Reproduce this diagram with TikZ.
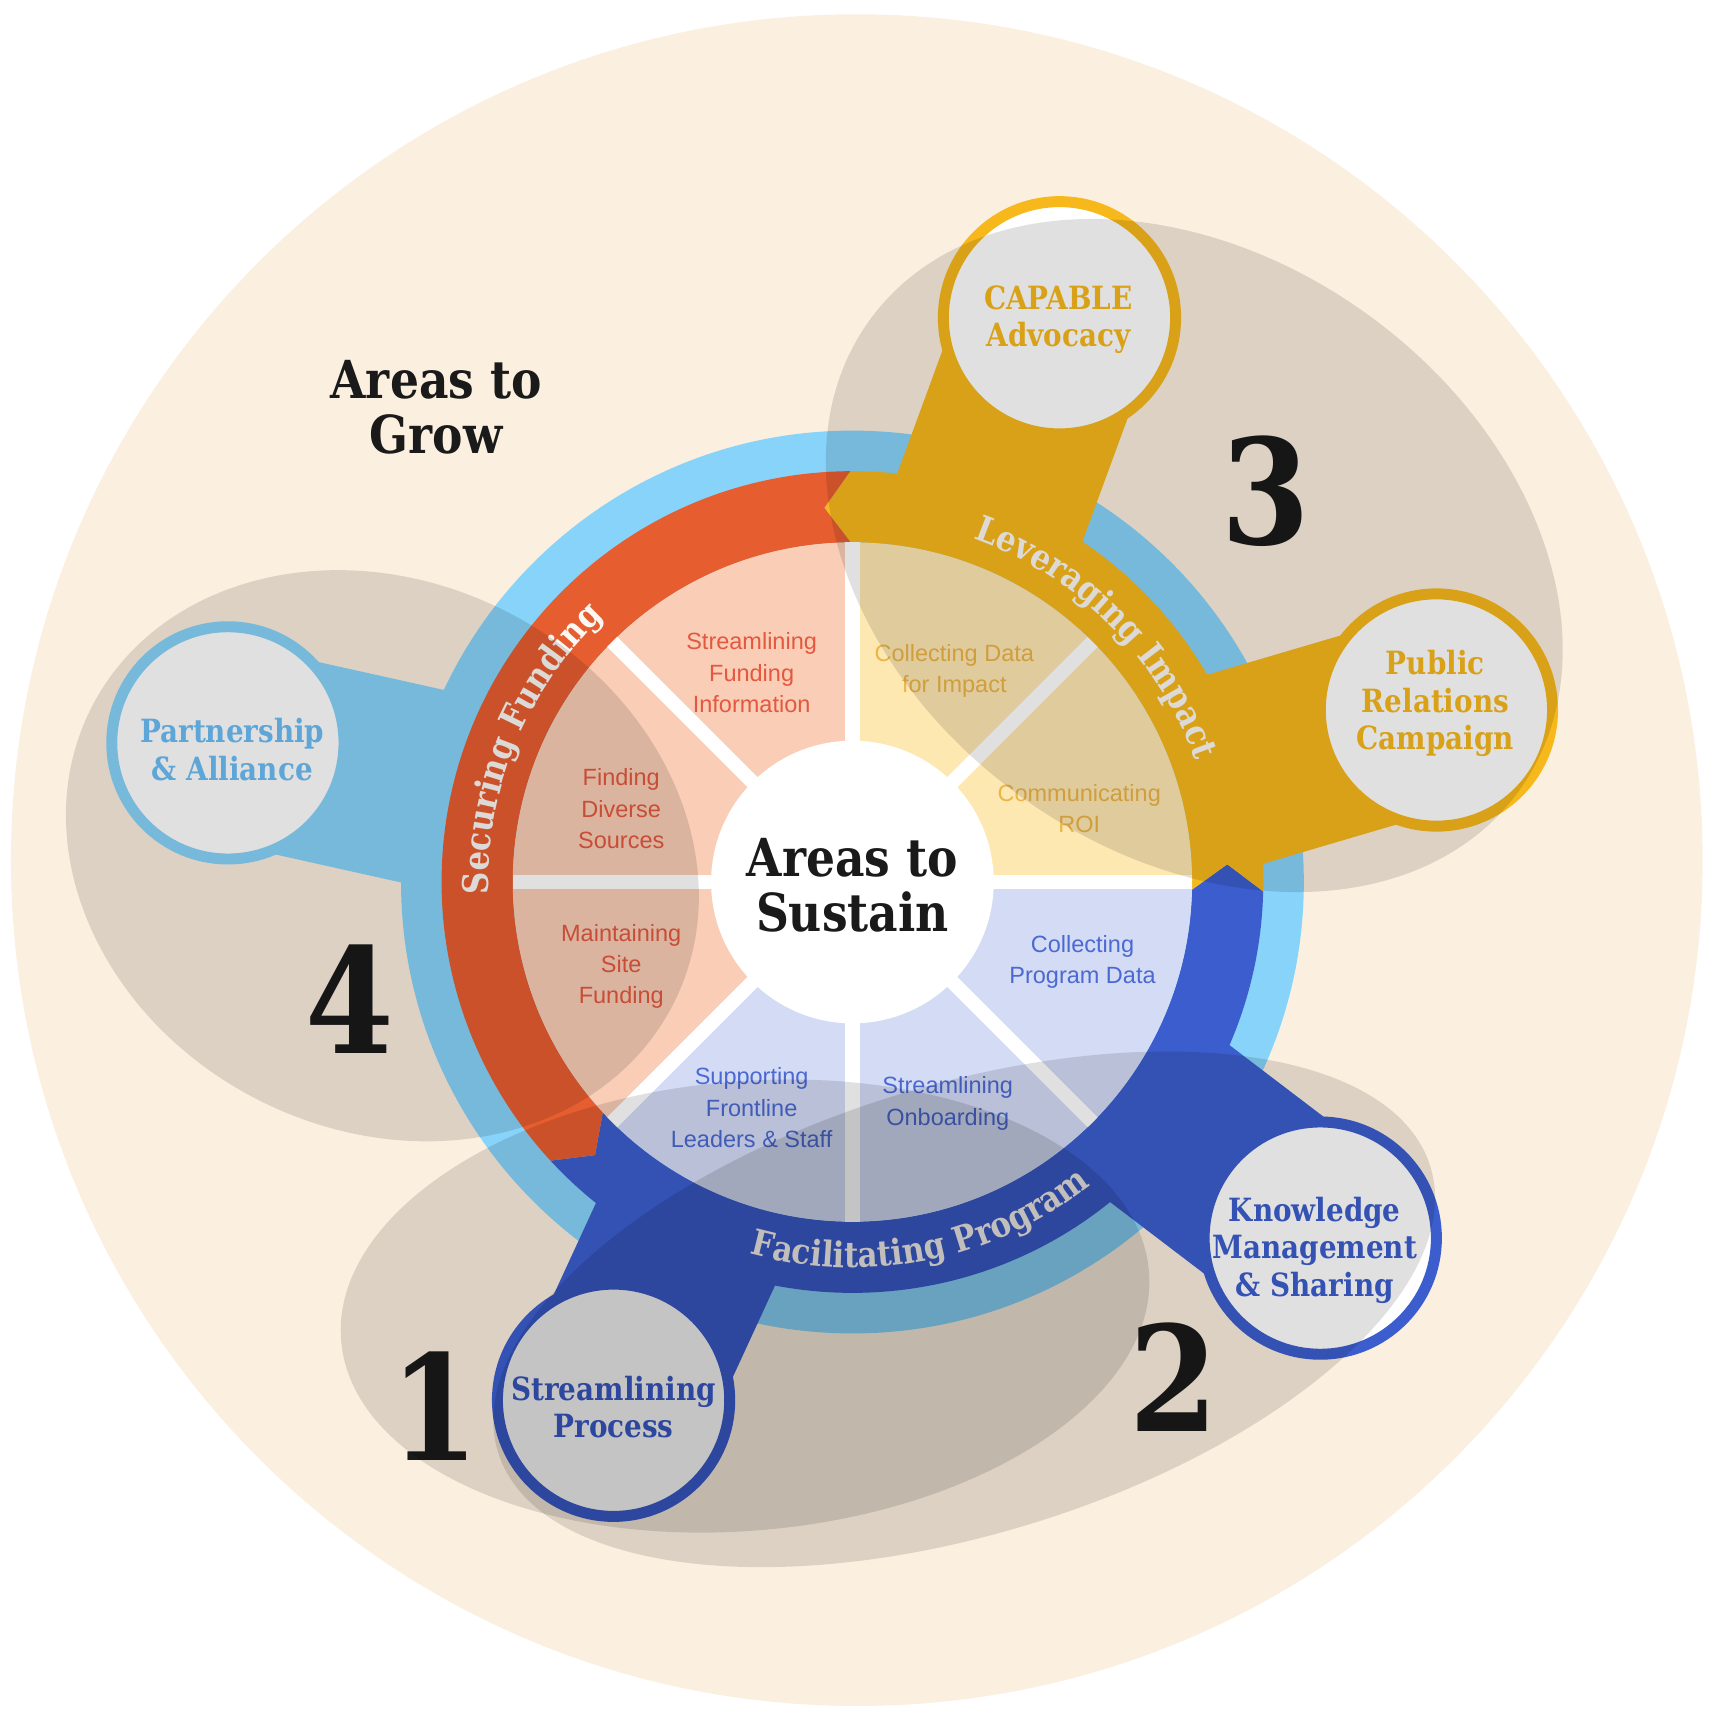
\documentclass[tikz,border=0pt]{standalone}
\usepackage{fontspec}
\setmainfont{Liberation Sans}
\newfontfamily\slab{DejaVu Serif}[FakeStretch=0.87]
\usetikzlibrary{decorations.text}
\definecolor{beige}{HTML}{FBEFDF}
\definecolor{lblue}{HTML}{88D3F9}
\definecolor{orng}{HTML}{E65D2F}
\definecolor{gold}{HTML}{F7B81B}
\definecolor{blu}{HTML}{3C5DCE}
\definecolor{secO}{HTML}{F9CDB6}
\definecolor{secY}{HTML}{FEE8B2}
\definecolor{secB}{HTML}{D3DBF5}
\definecolor{txO}{HTML}{E4583F}
\definecolor{txY}{HTML}{EDB446}
\definecolor{txB}{HTML}{4B69D2}
\definecolor{cL}{HTML}{6CBDF5}
\definecolor{ink}{HTML}{1A1A1A}
\definecolor{ringtxt}{HTML}{FBF8F4}
\newcommand\ringfont{\slab\bfseries\fontsize{9.2}{11}\selectfont}
\tikzset{
  sectxt/.style={font=\fontsize{6.1}{8.1}\selectfont, align=center, inner sep=0pt},
  circtxt/.style={font=\slab\bfseries\fontsize{8.3}{9.7}\selectfont, align=center, inner sep=0pt},
  bigtxt/.style={font=\slab\bfseries\fontsize{13.6}{14.3}\selectfont, align=center, inner sep=0pt, text=ink},
  numtxt/.style={font=\slab\bfseries\fontsize{38}{40}\selectfont, inner sep=0pt, text=ink},
  ringcirc/.style={fill=white, line width=0.1cm},
  areashade/.style={fill=black, fill opacity=0.12},
  sepline/.style={white, line width=0.13cm},
  ringlabel/.style={decorate, decoration={text along path, text align=center, text color=ringtxt, text={|\ringfont|#1}}}
}
\begin{document}
\begin{tikzpicture}[x=0.01cm,y=0.01cm]
\useasboundingbox (0,0) rectangle (1564,-1568);
\fill[white] (0,0) rectangle (1564,-1568);
\fill[beige] (782,-785) circle[radius=772];

\coordinate (W) at (778,-805);
\coordinate (cC) at (967,-290);
\coordinate (cPR) at (1311,-648);
\coordinate (cK) at (1205,-1130);
\coordinate (cS) at (560,-1278);
\coordinate (cP) at (208,-678);

% light blue ring
\fill[lblue] (W) circle[radius=412];

% arms
\fill[gold] (1051.5,-321) -- (979.6,-516.8) -- (810.6,-454.8) -- (882.5,-259) -- cycle;
\fill[gold] (1336.4,-734.3) -- (1129.6,-795.2) -- (1078.8,-622.6) -- (1285.6,-561.7) -- cycle;
\fill[blu] (1259.5,-1058.4) -- (1103,-939.3) -- (994,-1082.5) -- (1150.5,-1201.6) -- cycle;
\fill[blu] (641.7,-1315.7) -- (717.4,-1151.5) -- (554,-1076.1) -- (478.3,-1240.3) -- cycle;
\fill[lblue] (188.4,-765.8) -- (382.6,-809.1) -- (421.8,-633.4) -- (227.6,-590.2) -- cycle;

% ring bands
\fill[blu] ([shift={(W)}]222.7:375) arc[start angle=222.7,end angle=358.7,radius=375]
  -- ([shift={(W)}]362.7:342.5) -- ([shift={(W)}]358.7:310)
  arc[start angle=358.7,end angle=222.7,radius=310] -- ([shift={(W)}]226.7:342.5) -- cycle;
\fill[gold] ([shift={(W)}]-1.3:375) arc[start angle=-1.3,end angle=90.3,radius=375]
  -- ([shift={(W)}]94.3:342.5) -- ([shift={(W)}]90.3:310)
  arc[start angle=90.3,end angle=-1.3,radius=310] -- ([shift={(W)}]2.7:342.5) -- cycle;
\fill[orng] ([shift={(W)}]90.3:375) arc[start angle=90.3,end angle=222.7,radius=375]
  -- ([shift={(W)}]226.7:342.5) -- ([shift={(W)}]222.7:310)
  arc[start angle=222.7,end angle=90.3,radius=310] -- ([shift={(W)}]94.3:342.5) -- cycle;

% sectors
\foreach \a/\c in {0/secY,45/secY,90/secO,135/secO,180/secO,225/secB,270/secB,315/secB}
  \fill[\c] (W) -- ++(\a:310) arc[start angle=\a,end angle=\a+45,radius=310] -- cycle;
\foreach \a in {0,45,...,315}
  \draw[sepline] (W) -- ++(\a:310);
\fill[white] (W) circle[radius=129];

% callout circles
\draw[ringcirc, draw=gold] (cC) circle[radius=106];
\draw[ringcirc, draw=gold] (cPR) circle[radius=106];
\draw[ringcirc, draw=blu] (cK) circle[radius=106];
\draw[ringcirc, draw=blu] (cS) circle[radius=106];
\draw[ringcirc, draw=lblue] (cP) circle[radius=106];

\node[circtxt, text=gold] (capable) at (966,-292) {CAPABLE\\Advocacy};
\node[circtxt, text=gold] (pr) at (1310,-642) {Public\\Relations\\Campaign};
\node[circtxt, text=blu] (know) at (1200,-1141) {Knowledge\\Management\\\& Sharing};
\node[circtxt, text=blu] (proc) at (560,-1284) {Streamlining\\Process};
\node[circtxt, text=cL] (part) at (212,-684) {Partnership\\\& Alliance};

% sector texts
\node[sectxt, text=txO] (s1) at (686,-614) {Streamlining\\Funding\\Information};
\node[sectxt, text=txO] (s2) at (567,-738) {Finding\\Diverse\\Sources};
\node[sectxt, text=txO] (s3) at (567,-882) {Maintaining\\Site\\Funding};
\node[sectxt, text=txY] (s4) at (871,-612) {Collecting Data\\for Impact};
\node[sectxt, text=txY] (s5) at (985,-738) {Communicating\\ROI};
\node[sectxt, text=txB] (s6) at (988,-878) {Collecting\\Program Data};
\node[sectxt, text=txB] (s7) at (865,-1007) {Streamlining\\Onboarding};
\node[sectxt, text=txB] (s8) at (686,-1011) {Supporting\\Frontline\\Leaders \& Staff};

% ring labels
\path[ringlabel={Securing Funding}] ([shift={(W)}]215:332) arc[start angle=215,end angle=100,radius=332];
\path[ringlabel={Leveraging Impact}] ([shift={(W)}]100:332) arc[start angle=100,end angle=-10,radius=332];
\path[ringlabel={Facilitating Program}] ([shift={(W)}]226.4:352) arc[start angle=226.4,end angle=336.4,radius=352];

% titles and numbers
\node[bigtxt] (sustain) at (778,-808) {Areas to\\Sustain};
\node[bigtxt] (grow) at (398,-372) {Areas to\\Grow};
\node[numtxt] (n1) at (397,-1283) {1};
\node[numtxt] (n2) at (1071,-1257) {2};
\node[numtxt] (n3) at (1155,-448) {3};
\node[numtxt] (n4) at (319,-912) {4};

% area shading
\fill[areashade, rotate around={5:(680,-1192)}] (680,-1192) ellipse[x radius=370, y radius=205];
\fill[areashade, rotate around={17:(880,-1195)}] (880,-1195) ellipse[x radius=445, y radius=205];
\fill[areashade, rotate around={-36:(1090,-507)}] (1090,-507) ellipse[x radius=366, y radius=271];
\fill[areashade, rotate around={-27:(349,-781)}] (349,-781) ellipse[x radius=298, y radius=250];
\end{tikzpicture}
\end{document}
